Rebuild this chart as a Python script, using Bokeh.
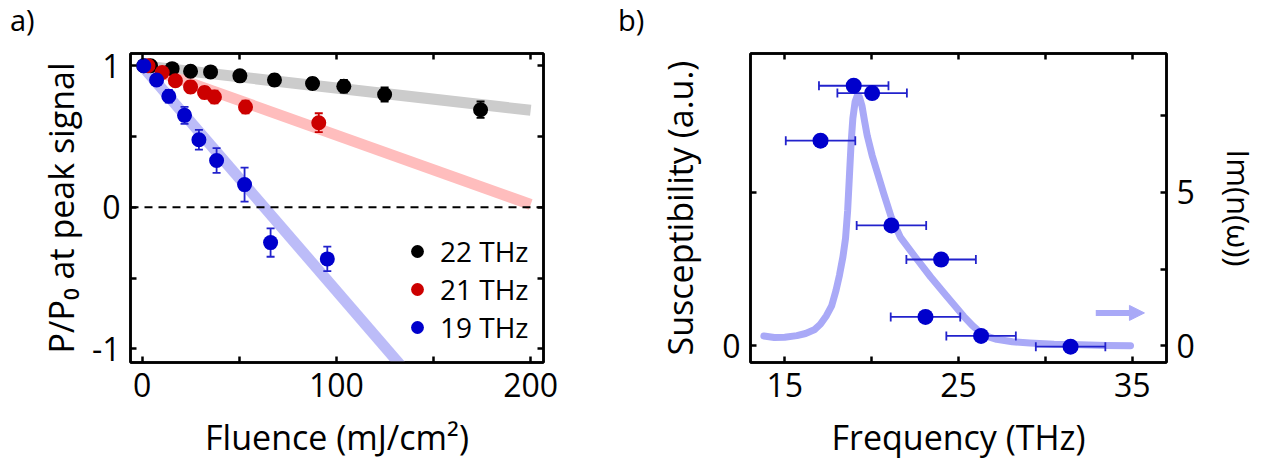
from bokeh.plotting import figure
from bokeh.models import (Range1d, LinearAxis, FixedTicker, Span, Legend, LegendItem,
                          Arrow, NormalHead, Div)
from bokeh.layouts import row, column
from bokeh.embed import file_html
from bokeh.resources import INLINE

FONT = "Open Sans"

# ---------------- panel a) data ----------------
fl_22 = [0.8, 4.3, 15.4, 24.9, 35.2, 50.3, 68.1, 87.7, 103.8, 124.8, 174.2]
p_22 = [1.0, 1.0, 0.98, 0.962, 0.957, 0.929, 0.90, 0.875, 0.856, 0.797, 0.69]
err_22 = [0.03, 0.03, 0.03, 0.035, 0.035, 0.035, 0.04, 0.04, 0.045, 0.05, 0.058]

fl_21 = [3.0, 10.3, 17.1, 24.9, 32.1, 37.2, 53.2, 90.9]
p_21 = [1.0, 0.953, 0.894, 0.851, 0.811, 0.78, 0.709, 0.598]
err_21 = [0.03, 0.03, 0.035, 0.04, 0.04, 0.045, 0.045, 0.067]

fl_19 = [0.8, 7.4, 13.7, 21.8, 29.2, 38.3, 52.7, 66.1, 95.3]
p_19 = [1.0, 0.90, 0.785, 0.65, 0.478, 0.331, 0.161, -0.249, -0.364]
err_19 = [0.03, 0.035, 0.045, 0.06, 0.07, 0.088, 0.12, 0.1, 0.086]

fit_x = [0, 200]
fit_22 = [1.0, 0.686]
fit_21 = [1.0, 0.02]
fit_19 = [1.0, -2.18]

series_labels = ["22 THz", "21 THz", "19 THz"]

# ---------------- panel b) data ----------------
freq = [18.97, 20.03, 17.06, 21.14, 24.0, 23.1, 26.3, 31.45]
chi = [8.47, 8.23, 6.68, 3.92, 2.81, 0.94, 0.32, -0.03]
ferr = [2.0, 2.0, 2.0, 2.0, 2.0, 2.0, 2.0, 2.0]

curve_f = [13.8, 14.4, 15.0, 15.7, 16.2, 16.7, 17.05, 17.4, 17.7, 17.95, 18.15, 18.35,
           18.5, 18.62, 18.72, 18.82, 18.92, 19.05, 19.18, 19.3, 19.45, 19.6, 19.75,
           20.03, 20.32, 20.7, 21.14, 21.66, 22.5, 23.4, 24.3, 25.3, 25.8, 26.17, 26.7,
           27.2, 28.1, 29.1, 30.5, 32.0, 33.5, 34.9]
curve_n = [0.32, 0.27, 0.28, 0.33, 0.40, 0.52, 0.70, 0.98, 1.30, 1.80, 2.30, 2.90,
           3.50, 4.40, 5.50, 6.60, 7.40, 7.95, 8.15, 8.10, 7.80, 7.30, 6.84,
           6.20, 5.66, 4.95, 4.17, 3.53, 2.90, 2.24, 1.63, 0.96, 0.66, 0.48, 0.30,
           0.21, 0.13, 0.09, 0.05, 0.03, 0.01, 0.0]

BLACK = "#000000"
RED = "#cc0000"
BLUE = "#0000cc"
BAR_BLUE = "#2222cc"
GRAY_BAND = "#cccccc"
RED_BAND = "#ffbdbd"
BLUE_BAND = "#bcbcf8"
CURVE = "#a9a9f7"


def style_axis(ax, label_standoff=14, show_labels=True, ticks=()):
    ax.axis_line_color = "black"
    ax.axis_line_width = 2.5
    ax.major_tick_line_color = "black"
    ax.major_tick_line_width = 2.5
    ax.minor_tick_line_color = "black"
    ax.minor_tick_line_width = 2.5
    ax.major_tick_in = 6
    ax.major_tick_out = 0
    ax.minor_tick_in = 6
    ax.minor_tick_out = 0
    ax.major_label_text_font = FONT
    ax.major_label_text_font_size = "32px"
    ax.major_label_text_color = "black"
    ax.major_label_standoff = 10 if show_labels else 0
    if not show_labels:
        ax.major_label_overrides = {t: "" for t in ticks}
    ax.axis_label_text_font = FONT
    ax.axis_label_text_font_size = "34px"
    ax.axis_label_text_font_style = "normal"
    ax.axis_label_text_color = "black"
    ax.axis_label_standoff = label_standoff


def base_fig(width, height, xr, yr, bl, br, bt, bb):
    p = figure(width=width, height=height, x_range=Range1d(*xr), y_range=Range1d(*yr),
               output_backend="svg", toolbar_location=None,
               min_border_left=bl, min_border_right=br, min_border_top=bt, min_border_bottom=bb,
               x_axis_location=None, y_axis_location=None)
    p.grid.visible = False
    p.outline_line_color = "black"
    p.outline_line_width = 2.5
    p.background_fill_color = "white"
    p.border_fill_color = "white"
    return p


def errbars_v(p, xs, ys, es, color):
    lo = [y - e for y, e in zip(ys, es)]
    hi = [y + e for y, e in zip(ys, es)]
    p.segment(x0=xs, y0=lo, x1=xs, y1=hi, line_color=color, line_width=1.8)
    p.scatter(x=xs + xs, y=lo + hi, marker="dash", size=8, line_color=color, line_width=1.8)


def panel_tag(text, width, pad_left):
    html = ('<div style="font-family: \'Open Sans\'; font-size: 29px; line-height: 40px; '
            'padding-left: %dpx; color: #000; white-space: nowrap;">%s</div>' % (pad_left, text))
    return Div(text=html, width=width, height=40, margin=0)


# ================= panel a) =================
p1 = base_fig(600, 422, (-6.02, 206.6), (-1.096, 1.087), 130, 57, 13, 99)

xt1 = FixedTicker(ticks=[0, 100, 200], minor_ticks=[50, 150])
yt1 = FixedTicker(ticks=[-1, 0, 1], minor_ticks=[-0.5, 0.5])

ax_b = LinearAxis(ticker=xt1, axis_label="Fluence (mJ/cm²)")
ax_l = LinearAxis(ticker=yt1, axis_label="P/P₀ at peak signal")
ax_t = LinearAxis(ticker=xt1)
ax_r = LinearAxis(ticker=yt1)
style_axis(ax_b, 14)
style_axis(ax_l, 5)
ax_l.major_label_overrides = {-1: "-1"}
style_axis(ax_t, show_labels=False, ticks=[0, 100, 200])
style_axis(ax_r, show_labels=False, ticks=[-1, 0, 1])
p1.add_layout(ax_b, "below")
p1.add_layout(ax_l, "left")
p1.add_layout(ax_t, "above")
p1.add_layout(ax_r, "right")

for fy, col in ((fit_22, GRAY_BAND), (fit_21, RED_BAND), (fit_19, BLUE_BAND)):
    p1.line(fit_x, fy, line_color=col, line_width=11, line_cap="butt")

p1.add_layout(Span(location=0, dimension="width", line_color="black", line_width=2,
                   line_dash="8 6"))

renderers = []
for xs, ys, es, col, bar in ((fl_22, p_22, err_22, BLACK, BLACK),
                             (fl_21, p_21, err_21, RED, RED),
                             (fl_19, p_19, err_19, BLUE, BAR_BLUE)):
    errbars_v(p1, xs, ys, es, bar)
    r = p1.scatter(xs, ys, size=15, fill_color=col, line_color=col, line_width=0)
    renderers.append(r)

legend = Legend(items=[LegendItem(label=l, renderers=[r]) for l, r in zip(series_labels, renderers)],
                location=(271, 16), glyph_width=32, glyph_height=32, label_standoff=7,
                spacing=0, padding=0, margin=0, border_line_color=None,
                background_fill_alpha=0, label_text_font=FONT, label_text_font_size="28px",
                label_height=32, label_text_color="black")
p1.add_layout(legend)

# ================= panel b) =================
p2 = base_fig(668, 422, (13.03, 36.97), (-0.545, 9.52), 150, 102, 13, 95)

xt2 = FixedTicker(ticks=[15, 25, 35], minor_ticks=[20, 30])
yt2l = FixedTicker(ticks=[0, 5], minor_ticks=[])
yt2r = FixedTicker(ticks=[0, 5], minor_ticks=[2.5, 7.5])

bx = LinearAxis(ticker=xt2, axis_label="Frequency (THz)")
lx = LinearAxis(ticker=yt2l, axis_label="Susceptibility (a.u.)")
tx = LinearAxis(ticker=xt2)
rx = LinearAxis(ticker=yt2r, axis_label="Im(n(ω))")
style_axis(bx, 14)
style_axis(lx, 16)
lx.major_label_overrides = {5: ""}
style_axis(tx, show_labels=False, ticks=[15, 25, 35])
style_axis(rx, 20)
rx.axis_label_text_font_size = "31px"
p2.add_layout(bx, "below")
p2.add_layout(lx, "left")
p2.add_layout(tx, "above")
p2.add_layout(rx, "right")

p2.line(curve_f, curve_n, line_color=CURVE, line_width=7, line_join="round", line_cap="round")

lo = [f - e for f, e in zip(freq, ferr)]
hi = [f + e for f, e in zip(freq, ferr)]
p2.segment(x0=lo, y0=chi, x1=hi, y1=chi, line_color=BAR_BLUE, line_width=1.8)
p2.scatter(x=lo + hi, y=chi + chi, marker="dash", angle=1.5708, size=9,
           line_color=BAR_BLUE, line_width=1.8)
p2.scatter(freq, chi, size=16, fill_color=BLUE, line_color=BLUE, line_width=0)

p2.add_layout(Arrow(x_start=32.9, y_start=1.07, x_end=35.7, y_end=1.07,
                    line_color=CURVE, line_width=6,
                    end=NormalHead(size=15, fill_color=CURVE, line_color=CURVE, line_width=1)))

layout = row(column(panel_tag("a)", 600, 10), p1), column(panel_tag("b)", 668, 18), p2))
open("out.html", "w").write(file_html(layout, INLINE))
